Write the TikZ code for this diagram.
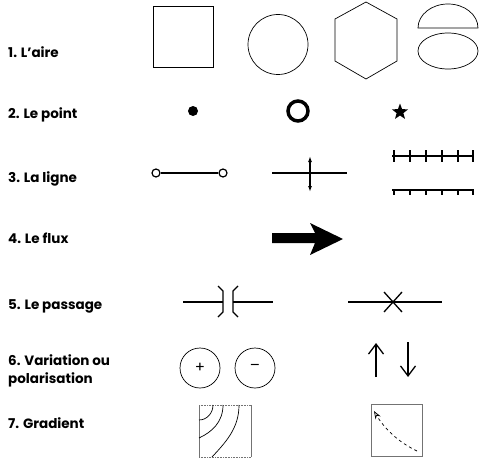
\documentclass[tikz,border=0pt]{standalone}
\usepackage{fontspec}
\setmainfont{Poppins}
\usetikzlibrary{positioning, calc, shapes.geometric, arrows.meta}
\tikzstyle{Label} = [
inner sep=0pt, anchor=base west,
font=\bfseries\fontsize{13.5}{15}\selectfont]
\tikzstyle{Thin} = [draw=black, line width=0.7pt]
\tikzstyle{Stroke} = [draw=black, line width=1.3pt]
\tikzstyle{Frame} = [draw=black!55, line width=0.6pt]
\tikzstyle{Ring} = [circle, draw, line width=1.2pt, inner sep=0pt, minimum size=8pt]
\tikzstyle{Sign} = [circle, Thin, minimum size=40pt, inner sep=0pt,
font=\fontsize{15}{15}\selectfont]

\begin{document}
\begin{tikzpicture}[x=1pt, y=-1pt]
    \useasboundingbox (0,0) rectangle (479,460);
    % labels
    \node [Label] (1) at (8,57) {1. L'aire};
    \node [Label] (2) at (8,118) {2. Le point};
    \node [Label] (3) at (8,182) {3. La ligne};
    \node [Label] (4) at (8,243) {4. Le flux};
    \node [Label] (5) at (8,309) {5. Le passage};
    \node [Label] (6) at (8,365) {6. Variation ou};
    \node [Label] (6b) at (8,383) {polarisation};
    \node [Label] (7) at (8,428) {7. Gradient};
    % 1. areas
    \draw [Thin] (153,6) rectangle (213,67);
    \draw [Thin] (278,44.5) circle (30);
    \draw [Thin] (366,2) -- (397,19) -- (397,61) -- (366,79) -- (335,61) -- (335,19) -- cycle;
    \draw [Thin] (418,28) arc[start angle=180, end angle=360, x radius=30, y radius=24] -- cycle;
    \draw [Thin] (448,51) ellipse [x radius=30, y radius=18];
    % 2. points
    \fill (193,111) circle (5);
    \draw [line width=3.5pt] (298,111) circle (10);
    \node [star, star points=5, star point ratio=2.4, fill, inner sep=0pt, minimum size=17pt] (star) at (400,112) {};
    % 3. lines
    \node [Ring] (a) at (156,173) {};
    \node [Ring] (b) at (223,173) {};
    \draw [Stroke] (a) -- (b);
    \draw [Stroke] (272,173) -- (347,173);
    \draw [Stroke, {Latex[length=6pt,width=4pt]}-{Latex[length=6pt,width=4pt]}] (310,156) -- (310,192);
    \draw [Stroke] (392,156) -- (474,156);
    \draw [Stroke] (392,190) -- (474,190);
    \foreach \x in {394,410,426,442,458,473} {
        \draw [Stroke] (\x,150) -- (\x,162);
        \draw [Stroke] (\x,190) -- (\x,195);
    }
    % 4. flow
    \fill (272,233) -- (315,233) -- (310,223) -- (343,239) -- (310,255) -- (315,243) -- (272,243) -- cycle;
    % 5. passages
    \draw [Stroke] (183,302) -- (223,302);
    \draw [Stroke] (218,286) -- (223,291) -- (223,312) -- (218,317);
    \draw [Stroke] (238,286) -- (233,291) -- (233,312) -- (238,317);
    \draw [Stroke] (233,302) -- (273,302);
    \draw [Stroke] (348,302) -- (442,302);
    \draw [Stroke] (384,292) -- (402,312);
    \draw [Stroke] (384,312) -- (402,292);
    % 6. variation
    \node [Sign] (plus) at (200,368) {+};
    \node [Sign] (minus) at (255,368) {\raisebox{1pt}{--}};
    \coordinate (up1) at (376,377);
    \coordinate (up2) at (376,343);
    \coordinate (dn1) at (408,342);
    \coordinate (dn2) at (408,377);
    \draw [Stroke, -{Straight Barb[length=10pt, width=15pt]}] (up1) -- (up2);
    \draw [Stroke, -{Straight Barb[length=10pt, width=15pt]}] (dn1) -- (dn2);
    % 7. gradients
    \draw [Frame] (199,405) -- (199,457) (251,405) -- (251,457);
    \draw [Frame, densely dotted] (199,405) -- (251,405) (199,457) -- (251,457);
    \draw [Thin] (213,405) arc[start angle=0, end angle=90, x radius=14, y radius=15];
    \draw [Thin] (223,405) .. controls (223,422) and (212,432) .. (199,438);
    \draw [Thin] (239,405) .. controls (239,428) and (226,442) .. (212,457);
    \draw [Frame] (371,404) rectangle (422,456);
    \coordinate (g1) at (417,451);
    \coordinate (g2) at (374,411);
    \draw [Thin, dashed, -{Stealth[length=8pt, width=6pt, open]}] (g1) .. controls (398,442) and (384,428) .. (g2);
\end{tikzpicture}
\end{document}
